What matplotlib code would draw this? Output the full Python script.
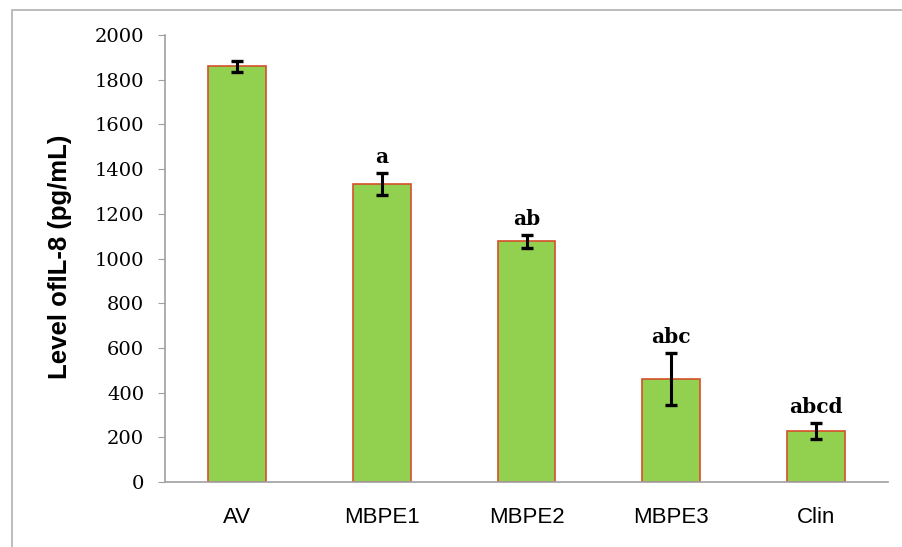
import matplotlib.pyplot as plt
from matplotlib.patches import Rectangle

# IL-8 levels per treatment group
groups = ["AV", "MBPE1", "MBPE2", "MBPE3", "Clin"]
il8_mean = [1860, 1333, 1077, 461, 228]
il8_err = [25, 50, 30, 118, 36]
sig_labels = ["", "a", "ab", "abc", "abcd"]

fig = plt.figure(figsize=(9.02, 5.47), dpi=100)
W, H = 902, 547

# thin grey frame around the chart area
fig.patches.append(Rectangle((12 / W, -0.05), 1.0, 1 - 10 / H + 0.05,
                             transform=fig.transFigure, fill=False,
                             edgecolor="#b0b0b0", linewidth=1.2))

ax = fig.add_axes([165 / W, 1 - 482 / H, (888 - 165) / W, (482 - 35) / H])

x = range(len(groups))
ax.bar(x, il8_mean, width=0.4, color="#92d050", edgecolor="#d4502a", linewidth=1.2)
ax.errorbar(x, il8_mean, yerr=il8_err, fmt="none", ecolor="black",
            elinewidth=2.2, capsize=4, capthick=2.4)

for xi, m, e, lab in zip(x, il8_mean, il8_err, sig_labels):
    if lab:
        ax.annotate(lab, (xi, m + e), xytext=(0, 4), textcoords="offset points",
                    ha="center", va="bottom", fontsize=14.5, fontweight="bold",
                    family="DejaVu Serif")

ax.set_xlim(-0.5, 4.5)
ax.set_ylim(0, 2000)
ax.set_yticks(range(0, 2001, 200))
ax.set_xticks(list(x))
ax.set_xticklabels(groups, family="Liberation Sans", fontsize=16)
for t in ax.get_yticklabels():
    t.set_family("DejaVu Serif")
    t.set_fontsize(14)

ax.tick_params(axis="x", length=0, pad=18)
ax.tick_params(axis="y", length=5, color="#a0a0a0", pad=10)
for side in ["top", "right"]:
    ax.spines[side].set_visible(False)
for side in ["left", "bottom"]:
    ax.spines[side].set_color("#a0a0a0")
    ax.spines[side].set_linewidth(1.2)

ax.set_ylabel("Level ofIL-8 (pg/mL)", family="Liberation Sans",
              fontsize=18.5, fontweight="bold")
ax.yaxis.set_label_coords((72 - 165) / (888 - 165), (482 - 257) / (482 - 35))

fig.savefig("out.png", dpi=100)
